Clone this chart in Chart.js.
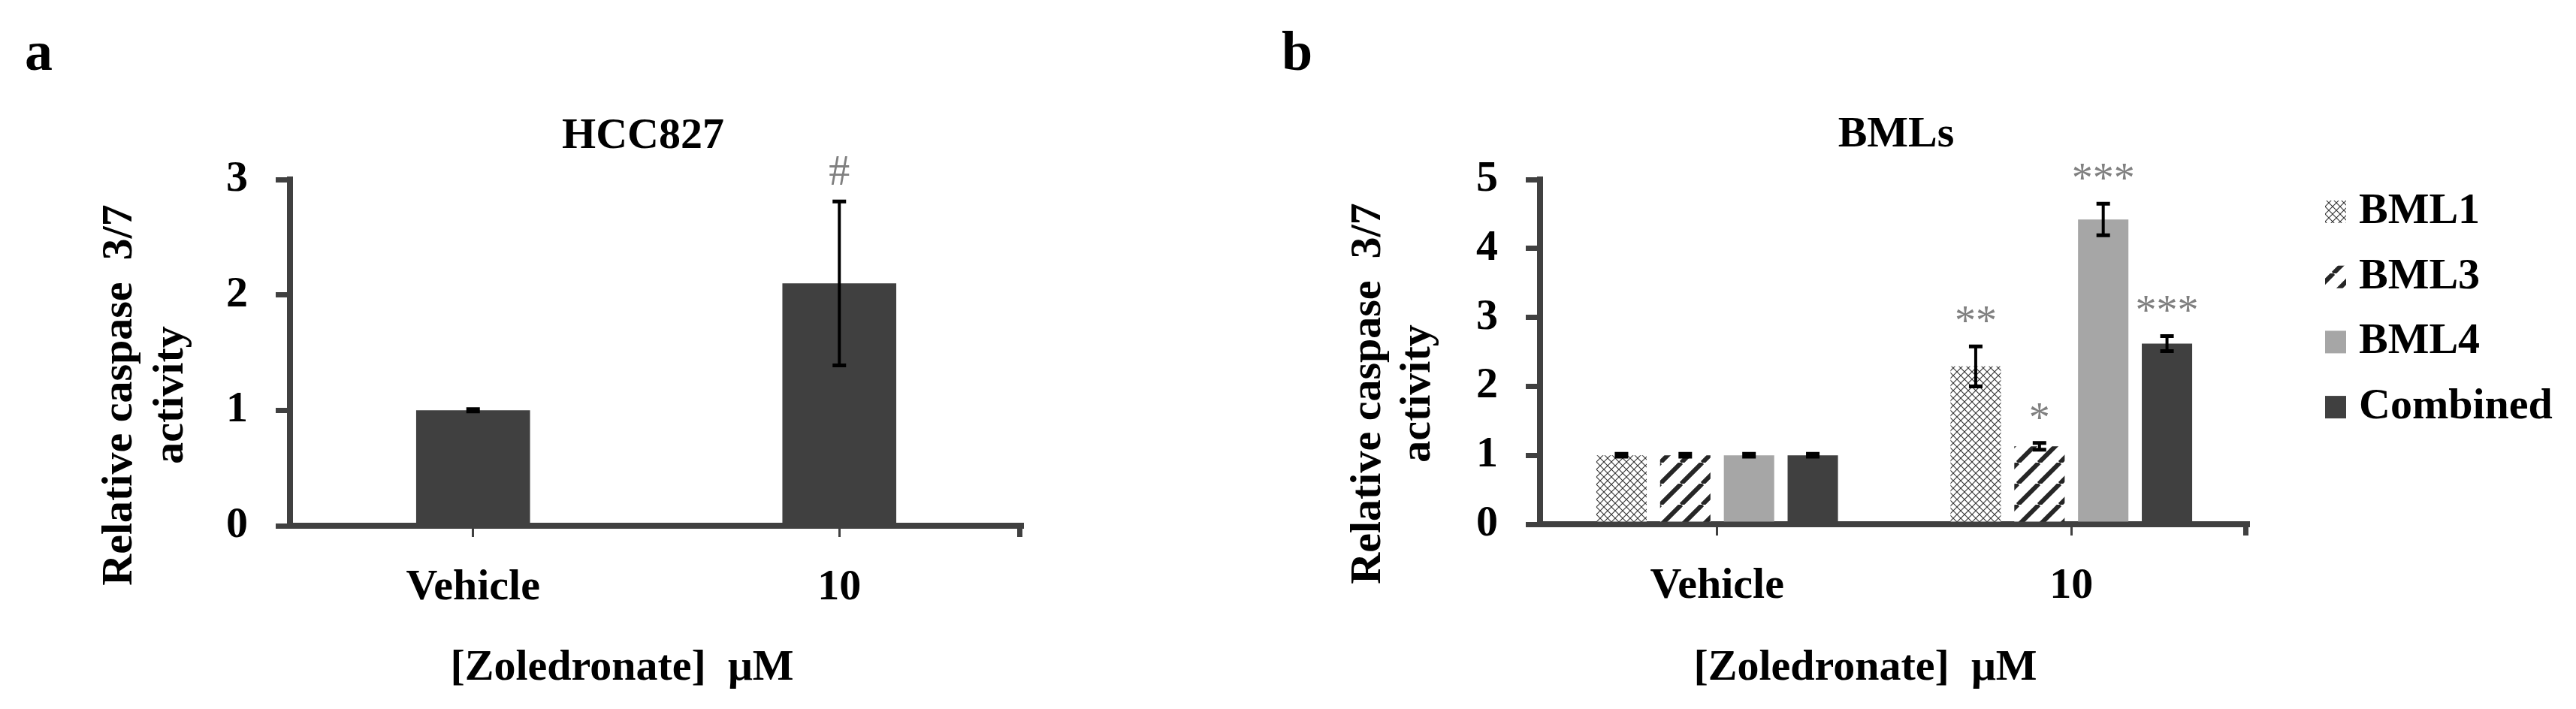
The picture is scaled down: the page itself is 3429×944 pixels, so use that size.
<!DOCTYPE html>
<html>
<head>
<meta charset="utf-8">
<title>Caspase 3/7 - HCC827 y BMLs</title>
<script src="https://cdn.jsdelivr.net/npm/chart.js@4.4.1/dist/chart.umd.min.js"></script>
<style>
    html, body { margin: 0; padding: 0; background: #fff; }
    body { width: 3429px; height: 944px; position: relative; overflow: hidden; }
    canvas { position: absolute; top: 0; }
    #chartA { left: 0; }
    #chartB { left: 1650px; }
</style>
</head>
<body>
<canvas id="chartA" width="1650" height="944"></canvas>
<canvas id="chartB" width="1779" height="944"></canvas>
<script>
/* =====================================================
   DATOS
===================================================== */
const categorias = ["Vehicle", "10"];

// Panel a - HCC827
const ticksA = [0, 1, 2, 3];
const hccMedia = [1.00, 2.10];
const hccError = [0.01, 0.71];
const hccMarcas = ["", "#"];

// Panel b - BMLs
const ticksB = [0, 1, 2, 3, 4, 5];
const seriesBML = ["BML1", "BML3", "BML4", "Combined"];
const bml1Media = [1.00, 2.29];
const bml1Error = [0.02, 0.29];
const bml1Marcas = ["", "**"];
const bml3Media = [1.00, 1.13];
const bml3Error = [0.02, 0.05];
const bml3Marcas = ["", "*"];
const bml4Media = [1.00, 4.42];
const bml4Error = [0.02, 0.23];
const bml4Marcas = ["", "***"];
const combMedia = [1.00, 2.62];
const combError = [0.02, 0.11];
const combMarcas = ["", "***"];

const FUENTE = "'Liberation Serif', 'Times New Roman', serif";
const GRIS_OSCURO = "#404040";
const GRIS_CLARO = "#a6a6a6";

Chart.defaults.font.family = FUENTE;
Chart.defaults.color = "#000";

/* =====================================================
   TRAMAS (rombos y rayas)
===================================================== */
function patronRombos() {
    const c = document.createElement("canvas");
    c.width = 10; c.height = 10;
    const g = c.getContext("2d");
    g.fillStyle = "#fff";
    g.fillRect(0, 0, 10, 10);
    g.strokeStyle = "#333";
    g.lineWidth = 1.1;
    g.beginPath();
    g.moveTo(0, 0); g.lineTo(10, 10);
    g.moveTo(10, 0); g.lineTo(0, 10);
    g.stroke();
    return g.createPattern(c, "repeat");
}

function patronRayas() {
    const s = 28;
    const c = document.createElement("canvas");
    c.width = s; c.height = s;
    const g = c.getContext("2d");
    g.fillStyle = "#fff";
    g.fillRect(0, 0, s, s);
    g.strokeStyle = "#262626";
    g.lineWidth = 6;
    g.beginPath();
    for (let k = -1; k <= 1; k++) {
        g.moveTo(k * s, s);
        g.lineTo(k * s + s, 0);
    }
    g.stroke();
    return g.createPattern(c, "repeat");
}

/* =====================================================
   PLUGINS
===================================================== */
// barras de error + marcas de significancia
function barrasError(gap) {
    return {
        id: "barrasError",
        afterDatasetsDraw(chart) {
            const { ctx, scales: { y } } = chart;
            ctx.save();
            ctx.strokeStyle = "#000";
            chart.data.datasets.forEach((ds, i) => {
                chart.getDatasetMeta(i).data.forEach((bar, j) => {
                    const v = ds.data[j], e = ds.errores[j];
                    const yAlto = y.getPixelForValue(v + e);
                    const yBajo = y.getPixelForValue(v - e);
                    ctx.lineWidth = 4;
                    ctx.beginPath();
                    ctx.moveTo(bar.x, yAlto);
                    ctx.lineTo(bar.x, yBajo);
                    ctx.stroke();
                    ctx.lineWidth = 5;
                    ctx.beginPath();
                    ctx.moveTo(bar.x - 9, yAlto); ctx.lineTo(bar.x + 9, yAlto);
                    ctx.moveTo(bar.x - 9, yBajo); ctx.lineTo(bar.x + 9, yBajo);
                    ctx.stroke();

                    const marca = ds.marcas[j];
                    if (marca) {
                        ctx.font = "56px " + FUENTE;
                        ctx.fillStyle = "#808080";
                        ctx.textAlign = "center";
                        ctx.textBaseline = "alphabetic";
                        ctx.fillText(marca, bar.x, yAlto - gap);
                    }
                });
            });
            ctx.restore();
        }
    };
}

// pequeña marca al final del eje x
const marcaFinalEje = {
    id: "marcaFinalEje",
    afterDraw(chart) {
        const { ctx, chartArea } = chart;
        ctx.save();
        ctx.fillStyle = GRIS_OSCURO;
        ctx.fillRect(chartArea.right - 7, chartArea.bottom, 7, 15);
        ctx.restore();
    }
};

// textos: letra del panel, título y títulos de ejes
function textosFijos(items) {
    return {
        id: "textosFijos",
        afterDraw(chart) {
            const ctx = chart.ctx;
            items.forEach(t => {
                ctx.save();
                ctx.font = t.font;
                ctx.fillStyle = "#000";
                ctx.textAlign = t.align || "center";
                ctx.textBaseline = "alphabetic";
                ctx.translate(t.x, t.y);
                if (t.rotar) ctx.rotate(-Math.PI / 2);
                ctx.fillText(t.text, 0, 0);
                ctx.restore();
            });
        }
    };
}

// leyenda del panel b
const leyendaBML = {
    id: "leyendaBML",
    afterDraw(chart) {
        const ctx = chart.ctx;
        const x0 = 1445, y0 = 282, paso = 86.7;
        chart.data.datasets.forEach((ds, i) => {
            const yc = y0 + i * paso;
            ctx.save();
            ctx.fillStyle = ds.backgroundColor;
            ctx.fillRect(x0, yc - 15, 28, 30);
            ctx.fillStyle = "#000";
            ctx.font = "bold 58px " + FUENTE;
            ctx.textAlign = "left";
            ctx.textBaseline = "middle";
            ctx.fillText(ds.label, x0 + 45, yc);
            ctx.restore();
        });
    }
};

/* =====================================================
   OPCIONES COMUNES
===================================================== */
function escalas(ticksY) {
    return {
        x: {
            type: "category",
            offset: true,
            afterFit(scale) { scale.height = 100; },
            grid: { offset: false, drawOnChartArea: false, tickLength: 15, lineWidth: 3, color: GRIS_OSCURO },
            border: { width: 8, color: GRIS_OSCURO },
            ticks: { font: { size: 58, weight: "bold" }, color: "#000", padding: 33 }
        },
        y: {
            min: ticksY[0],
            max: ticksY[ticksY.length - 1],
            afterFit(scale) { scale.width = 100; },
            grid: { drawOnChartArea: false, tickLength: 19, lineWidth: 7, color: GRIS_OSCURO },
            border: { width: 8, color: GRIS_OSCURO },
            ticks: { stepSize: 1, font: { size: 58, weight: "bold" }, color: "#000", padding: 37 }
        }
    };
}

const fuenteTitulo = "bold 58px " + FUENTE;
const fuenteLetra = "bold 74px " + FUENTE;

/* =====================================================
   PANEL a - HCC827
===================================================== */
new Chart(document.getElementById("chartA"), {
    type: "bar",
    data: {
        labels: categorias,
        datasets: [{
            label: "HCC827",
            data: hccMedia,
            errores: hccError,
            marcas: hccMarcas,
            backgroundColor: GRIS_OSCURO,
            borderWidth: 0,
            barPercentage: 0.311,
            categoryPercentage: 1
        }]
    },
    options: {
        responsive: false,
        animation: false,
        devicePixelRatio: 1,
        layout: { padding: { left: 286, right: 289, top: 239, bottom: 144 } },
        plugins: { legend: { display: false }, tooltip: { enabled: false } },
        scales: escalas(ticksA)
    },
    plugins: [
        barrasError(22),
        marcaFinalEje,
        textosFijos([
            { text: "a", x: 33, y: 93, font: fuenteLetra, align: "left" },
            { text: "HCC827", x: 856, y: 197, font: fuenteTitulo },
            { text: "Relative caspase  3/7", x: 175, y: 526, font: fuenteTitulo, rotar: true },
            { text: "activity", x: 243, y: 526, font: fuenteTitulo, rotar: true },
            { text: "[Zoledronate]  \u03bcM", x: 828, y: 905, font: fuenteTitulo }
        ])
    ]
});

/* =====================================================
   PANEL b - BMLs
===================================================== */
const rellenos = [patronRombos(), patronRayas(), GRIS_CLARO, GRIS_OSCURO];
const medias = [bml1Media, bml3Media, bml4Media, combMedia];
const errores = [bml1Error, bml3Error, bml4Error, combError];
const marcas = [bml1Marcas, bml3Marcas, bml4Marcas, combMarcas];

new Chart(document.getElementById("chartB"), {
    type: "bar",
    data: {
        labels: categorias,
        datasets: seriesBML.map((nombre, i) => ({
            label: nombre,
            data: medias[i],
            errores: errores[i],
            marcas: marcas[i],
            backgroundColor: rellenos[i],
            borderWidth: 0,
            barPercentage: 0.79,
            categoryPercentage: 0.72
        }))
    },
    options: {
        responsive: false,
        animation: false,
        devicePixelRatio: 1,
        layout: { padding: { left: 300, right: 436, top: 239, bottom: 146 } },
        plugins: { legend: { display: false }, tooltip: { enabled: false } },
        scales: escalas(ticksB)
    },
    plugins: [
        barrasError(15),
        marcaFinalEje,
        leyendaBML,
        textosFijos([
            { text: "b", x: 56, y: 93, font: fuenteLetra, align: "left" },
            { text: "BMLs", x: 874, y: 195, font: fuenteTitulo },
            { text: "Relative caspase  3/7", x: 187, y: 524, font: fuenteTitulo, rotar: true },
            { text: "activity", x: 253, y: 524, font: fuenteTitulo, rotar: true },
            { text: "[Zoledronate]  \u03bcM", x: 833, y: 905, font: fuenteTitulo }
        ])
    ]
});
</script>
</body>
</html>
